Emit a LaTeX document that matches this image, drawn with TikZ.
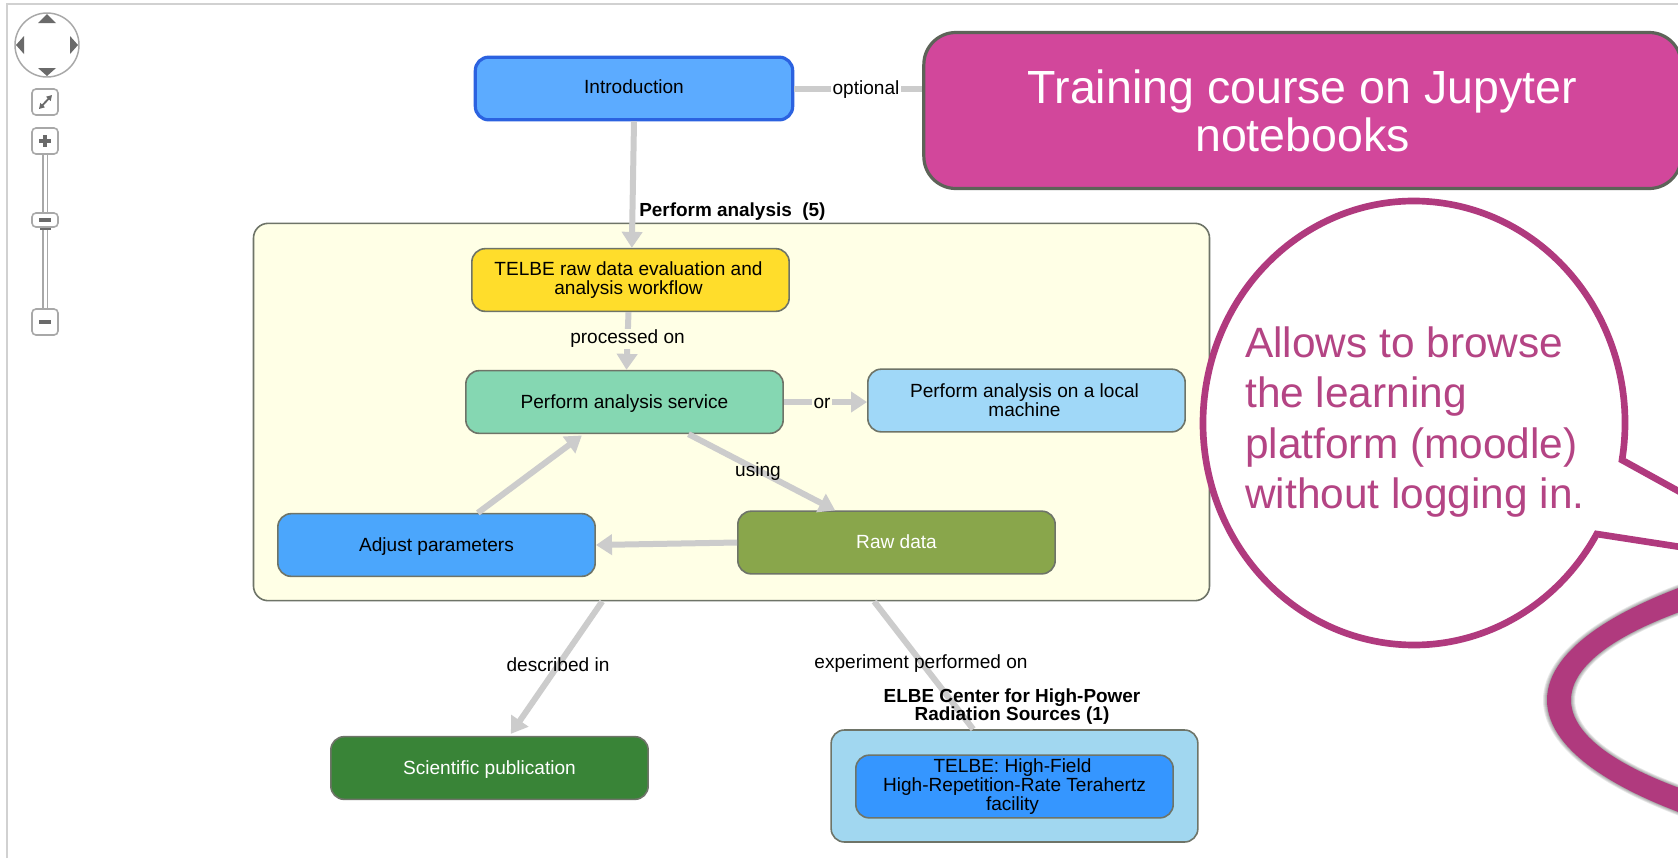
\documentclass[tikz,border=0pt]{standalone}
\usepackage{fontspec}
\setmainfont{Liberation Sans}
\usetikzlibrary{arrows.meta,calc}
\definecolor{conn}{HTML}{CCCCCC}
\definecolor{edgegray}{HTML}{6E7468}
\definecolor{introfill}{HTML}{5CABFF}
\definecolor{introedge}{HTML}{2B62E0}
\definecolor{trainfill}{HTML}{D2479B}
\definecolor{telbefill}{HTML}{FFDD2B}
\definecolor{svcfill}{HTML}{85D7B2}
\definecolor{localfill}{HTML}{A0D8F8}
\definecolor{adjfill}{HTML}{4BA6FC}
\definecolor{rawfill}{HTML}{89A64B}
\definecolor{scifill}{HTML}{398437}
\definecolor{elbefill}{HTML}{A1D7F0}
\definecolor{facfill}{HTML}{3596FF}
\definecolor{groupfill}{HTML}{FFFFE6}
\definecolor{bubble}{HTML}{B03A7E}
\definecolor{widget}{HTML}{A8A8A8}
\definecolor{widgetdark}{HTML}{6A6A6A}
\tikzset{
 x=0.75pt,y=-0.75pt,
 basebox/.style={rounded corners=10pt,draw=edgegray,line width=1.2pt,align=center,
   minimum width=238pt,minimum height=47pt,inner sep=1pt,
   font=\fontsize{14.3}{14.4}\selectfont,text=black},
 oneline/.style={text height=10pt,text depth=0.6pt},
 conline/.style={draw=conn,line width=4.5pt},
 conarrow/.style={conline,-{Triangle[length=12pt,width=15pt]}},
 elabel/.style={font=\fontsize{14.3}{14.4}\selectfont,text=black,inner sep=1pt},
 grouptitle/.style={font=\bfseries\fontsize{14.2}{13.8}\selectfont,text=black,align=center,inner sep=0pt},
 widgetbtn/.style={draw=widget,line width=1.2pt,fill=white,rounded corners=3pt},
 widgetmark/.style={draw=widgetdark,line width=2.4pt},
 widgettri/.style={fill=widgetdark,draw=none},
}
\begin{document}
\begin{tikzpicture}
\clip (0,0) rectangle (1678,858);
\fill[white] (0,0) rectangle (1678,858);
% frame of the viewer
\draw[draw=conn!90,line width=1pt] (7,858) -- (7,4) -- (1678,4);

% navigation widget
\draw[draw=widget,line width=1.1pt,fill=white] (47,45) circle (24pt);
\fill[widgettri] (47,14) -- (38,23) -- (56,23) -- cycle;
\fill[widgettri] (47,76) -- (38,68) -- (56,68) -- cycle;
\fill[widgettri] (16,45) -- (24,36) -- (24,54) -- cycle;
\fill[widgettri] (78,45) -- (70,36) -- (70,54) -- cycle;
\draw[widgetbtn] (32,89) rectangle (58,115);
\draw[widgetdark,line width=1.4pt,{Triangle[length=4pt,width=4.5pt]}-{Triangle[length=4pt,width=4.5pt]}] (39,109) -- (52,95);
\draw[draw=widget,line width=1pt,fill=white] (43,152) rectangle (47.5,312);
\draw[widgetbtn] (32,128) rectangle (58,154);
\draw[widgetmark] (39,141) -- (51,141) (45,135) -- (45,147);
\draw[widgetbtn] (32,213) rectangle (58,227);
\draw[widgetmark] (39,220) -- (51,220);
\fill[widgetdark] (40,227.5) rectangle (51,230);
\draw[widgetbtn] (32,309) rectangle (58,335);
\draw[widgetmark] (39,322) -- (51,322);

% group containers
\node[basebox,fill=groupfill,minimum width=717pt,minimum height=283pt,rounded corners=11pt] (grp) at (731.5,412) {};
\node[grouptitle,anchor=west] (grptitle) at (639,212) {Perform analysis\hspace{0.55em}(5)};
\node[basebox,fill=elbefill,minimum width=275pt,minimum height=84pt] (elbe) at (1014.5,786) {};

% nodes
\node[basebox,text height=10pt,text depth=3.1pt,fill=introfill,draw=introedge,line width=2.4pt] (intro) at (634,88.5) {Introduction};
\node[basebox,fill=trainfill,draw=edgegray!85!black,line width=2.4pt,minimum width=568pt,minimum height=117pt,rounded corners=24pt,text=white,font=\fontsize{34.9}{36}\selectfont] (train) at (1302.5,110.5) {Training course on Jupyter\\notebooks};
\node[basebox,fill=telbefill] (telbe) at (630.5,280) {TELBE raw data evaluation and\hspace*{3pt}\\analysis workflow\hspace*{3pt}};
\node[basebox,oneline,fill=svcfill] (svc) at (624.5,402) {Perform analysis service};
\node[basebox,fill=localfill] (local) at (1026.5,400.5) {Perform analysis on a local\hspace*{3pt}\\machine\hspace*{3pt}};
\node[basebox,oneline,fill=adjfill] (adj) at (436.5,545) {Adjust parameters};
\node[basebox,oneline,fill=rawfill,text=white] (raw) at (896.5,542.5) {Raw data};
\node[basebox,oneline,fill=scifill,text=white] (sci) at (489.5,768) {Scientific publication};
\node[basebox,fill=facfill] (fac) at (1014.5,786.5) {TELBE: High-Field\hspace*{3pt}\\High-Repetition-Rate Terahertz\hspace*{3pt}\\facility\hspace*{3pt}};

% connectors
\draw[conline] (intro.east) -- (intro.east -| train.west);
\draw[conarrow] (intro.south) -- ([xshift=1pt]telbe.north);
\draw[conarrow] ([xshift=-1.5pt]telbe.south) -- ([xshift=1.5pt]svc.north);
\draw[conarrow] (svc.east) -- (svc.east -| local.west);
\draw[conarrow] ([xshift=48pt]svc.south) -- ([xshift=-46pt]raw.north);
\draw[conarrow] (raw.west) -- (adj.east);
\draw[conarrow] ([xshift=31pt]adj.north) -- ([xshift=-32pt,yshift=-1pt]svc.south);
\draw[conarrow] ([xshift=-97pt]grp.south) -- ([xshift=16pt,yshift=1.5pt]sci.north);
\draw[conline] ([xshift=107pt]grp.south) -- ([xshift=-31pt]elbe.north);
\node[grouptitle] (elbetitle) at (1012,706.5) {ELBE Center for High-Power\\Radiation Sources (1)};

% connector labels
\node[elabel,fill=white] (lopt) at (866,90) {optional};
\node[elabel,fill=groupfill] (lproc) at (627.5,339) {processed on};
\node[elabel,fill=groupfill] (lor) at (822,403) {or};
\node[elabel] (lusing) at (758,472) {using};
\node[elabel] (ldesc) at (558,665) {described in};
\node[elabel] (lexp) at (921,664) {experiment performed on};

% decorative ring with soft shadow
\coordinate (ringc) at (2247,700);
\foreach \d in {4,3,2,1,0}{
  \fill[black,opacity=0.09,even odd rule,shift={(2,4)}]
    (ringc) ellipse [x radius={525pt+\d*0.75pt},y radius={144pt+\d*0.75pt}]
    (ringc) ellipse [x radius={507pt-\d*0.75pt},y radius={121.5pt-\d*0.75pt}];
}
\fill[bubble,even odd rule] (ringc) ellipse [x radius=525pt,y radius=144pt]
   (ringc) ellipse [x radius=507pt,y radius=121.5pt];

% speech bubble
\coordinate (bubc) at (1414,423);
\coordinate (taila) at (1700,503);
\coordinate (tailb) at (1700,550);
\draw[draw=bubble,line width=5pt,fill=white,line join=miter]
  ([shift={(-9.6:158.25pt and 166.5pt)}]bubc)
  arc[start angle=-9.6,end angle=330,x radius=158.25pt,y radius=166.5pt]
  -- (tailb) -- (taila) -- cycle;
\node[anchor=west,align=left,inner sep=0pt,text=bubble!95!white,font=\fontsize{31.8}{37.6}\selectfont] (bubtext) at (1245,422)
 {Allows to browse\\the learning\\platform (moodle)\\without logging in.};
\end{tikzpicture}
\end{document}
